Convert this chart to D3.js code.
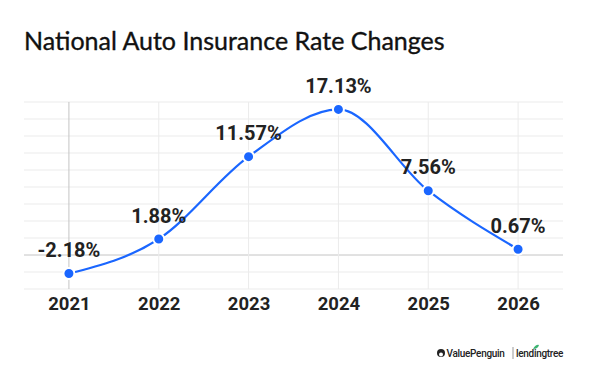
<!DOCTYPE html>
<html><head><meta charset="utf-8">
<script src="https://cdn.jsdelivr.net/npm/d3@7"></script>
<style>body{margin:0;background:#fff}svg{display:block}</style>
</head><body>
<svg id="c" width="600" height="367"></svg>
<script>
const years = ["2021","2022","2023","2024","2025","2026"];
const rates = [-2.18, 1.88, 11.57, 17.13, 7.56, 0.67];
const rateLabels = ["-2.18%","1.88%","11.57%","17.13%","7.56%","0.67%"];
const yTicks = [-4,-2,0,2,4,6,8,10,12,14,16,18];
const title = "National Auto Insurance Rate Changes";

const svg = d3.select("#c");
const L = 24, R = 563, T = 102, B = 289;
const x = d3.scalePoint().domain(years).range([L, R]).padding(0.5);
const y = d3.scaleLinear().domain([-4, 18]).range([B, T]);

svg.append("text").attr("x", 24).attr("y", 49.5)
  .attr("font-family", "Lato").attr("font-size", 25).attr("fill", "#111")
  .attr("stroke", "#111").attr("stroke-width", 0.35)
  .text(title);

// horizontal grid
svg.append("g").selectAll("line").data(yTicks).join("line")
  .attr("x1", L).attr("x2", R)
  .attr("y1", d => y(d)).attr("y2", d => y(d))
  .attr("stroke", d => d === 0 ? "#c4c4c4" : "#ebebeb").attr("stroke-width", 1);
// vertical grid
svg.append("g").selectAll("line").data(years).join("line")
  .attr("x1", d => x(d)).attr("x2", d => x(d))
  .attr("y1", T).attr("y2", B)
  .attr("stroke", (d, i) => i === 0 ? "#c4c4c4" : "#ebebeb").attr("stroke-width", 1);

// x axis labels
const xAxis = d3.axisBottom(x).tickSize(0).tickPadding(0);
const gx = svg.append("g").attr("transform", `translate(0,${B})`).call(xAxis);
gx.select(".domain").remove();
gx.selectAll("text").attr("dy", null).attr("y", 21)
  .attr("font-family", "Roboto").attr("font-weight", 700).attr("font-size", 18.5).attr("fill", "#222");

const data = years.map((d, i) => ({year: d, v: rates[i], label: rateLabels[i]}));
const line = d3.line().x(d => x(d.year)).y(d => y(d.v)).curve(d3.curveMonotoneX);
svg.append("path").datum(data).attr("d", line)
  .attr("fill", "none").attr("stroke", "#1a66ff").attr("stroke-width", 2.2);

svg.append("g").selectAll("circle").data(data).join("circle")
  .attr("cx", d => x(d.year)).attr("cy", d => y(d.v)).attr("r", 5.5)
  .attr("fill", "#1a66ff").attr("stroke", "#fff").attr("stroke-width", 2);

svg.append("g").selectAll("text").data(data).join("text")
  .attr("x", d => x(d.year)).attr("y", d => y(d.v) - 16.5)
  .attr("text-anchor", "middle")
  .attr("font-family", "Roboto").attr("font-weight", 700).attr("font-size", 20).attr("fill", "#222")
  .text(d => d.label);

// logo
const lg = svg.append("g").attr("font-family", "Roboto");
lg.append("circle").attr("cx", 441).attr("cy", 353).attr("r", 4).attr("fill", "#222");
lg.append("circle").attr("cx", 441).attr("cy", 354.5).attr("r", 2).attr("fill", "#fff");
lg.append("text").attr("x", 446.5).attr("y", 357).attr("font-size", 10).attr("font-weight", 500).attr("fill", "#222")
  .attr("letter-spacing", -0.3).text("ValuePenguin");
lg.append("line").attr("x1", 513).attr("x2", 513).attr("y1", 347).attr("y2", 359).attr("stroke", "#999");
lg.append("text").attr("x", 516).attr("y", 357).attr("font-size", 10).attr("font-weight", 500).attr("fill", "#222")
  .attr("letter-spacing", -0.3).text("lendingtree");
lg.append("path").attr("d", "M533,349 q3,-5 6,-4 q-1,4 -6,4z").attr("fill", "#3cb371");
</script>
</body></html>
